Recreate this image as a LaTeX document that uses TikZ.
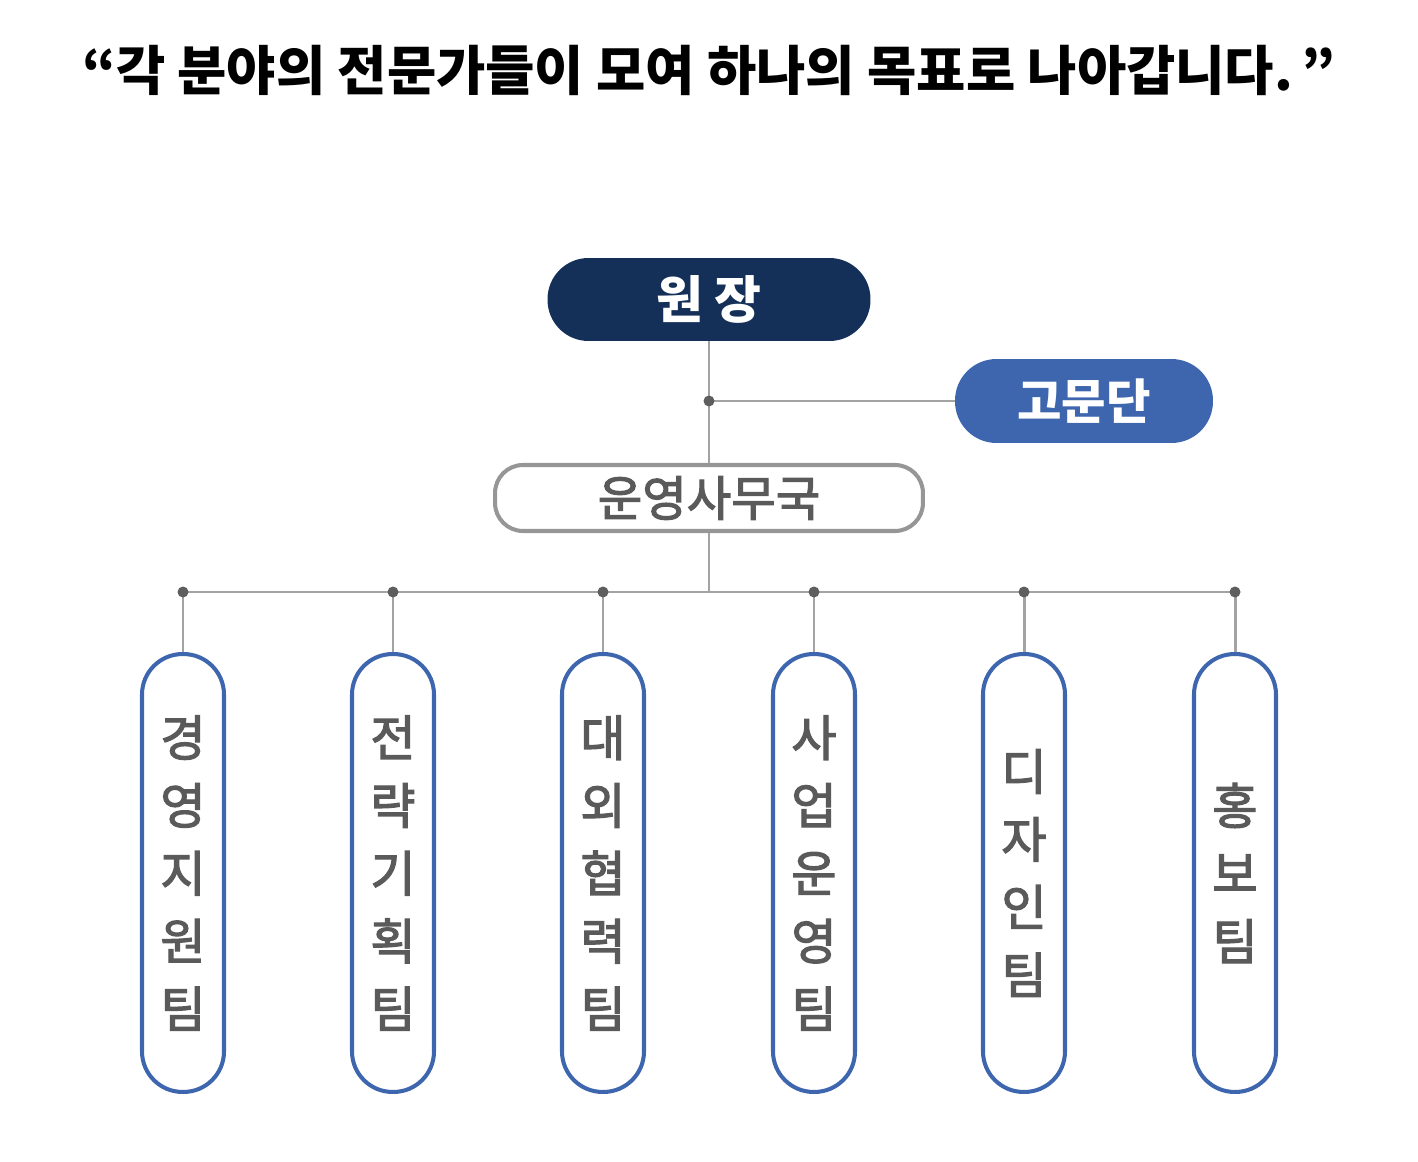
\documentclass[tikz,border=0pt]{standalone}
\usepackage{fontspec}
\setmainfont{Noto Sans CJK KR}
\newfontfamily\midfont{Noto Sans CJK KR}[FakeBold=2.4]
\usepackage{tikz,xcolor}
\usetikzlibrary{calc}

\definecolor{navy}{HTML}{143058}
\definecolor{midblue}{HTML}{3D66AF}
\definecolor{linegray}{HTML}{A3A3A3}
\definecolor{boxgray}{HTML}{969696}
\definecolor{textgray}{HTML}{5A5A5A}
\definecolor{dotgray}{HTML}{5E5E5E}

\tikzset{
  headbox/.style={fill=navy, text=white, rounded corners=0.82cm, minimum width=6.46cm, minimum height=1.66cm, inner sep=0pt, font=\bfseries\fontsize{29}{32}\selectfont},
  advbox/.style={fill=midblue, text=white, rounded corners=0.83cm, minimum width=5.16cm, minimum height=1.68cm, inner sep=0pt, font=\bfseries\fontsize{27.5}{30}\selectfont},
  officebox/.style={draw=boxgray, line width=2.3pt, fill=white, text=textgray, rounded corners=0.56cm, minimum width=8.56cm, minimum height=1.32cm, inner sep=0pt, font=\midfont\fontsize{27.5}{30}\selectfont},
  teambox/.style={draw=midblue, line width=2.3pt, fill=white, text=textgray, rounded corners=0.81cm, minimum width=1.64cm, minimum height=8.76cm, inner sep=0pt, align=center, font=\midfont\fontsize{28}{38.6}\selectfont},
  wire/.style={draw=linegray, line width=1.7pt},
  joint/.style={fill=dotgray}
}

\begin{document}
\begin{tikzpicture}[x=0.02cm, y=-0.02cm]
  \useasboundingbox (0,0) rectangle (1418,1162);
  % title
  \node (title) at (709,70) {\bfseries\fontsize{30.5}{34}\selectfont “각 분야의 전문가들이 모여 하나의 목표로 나아갑니다.\,”};

  % top of the chart
  \node[headbox] (head) at (709,299.5) {원 장};
  \node[advbox] (adv) at (1084,401) {고문단};
  \node[officebox] (office) at (709,498) {운영사무국};
  \coordinate (advjoint) at (709,401);
  \coordinate (bus) at (709,592);

  \draw[wire] (head.south) -- (office.north);
  \draw[wire] (advjoint) -- (adv.west);
  \draw[wire] (office.south) -- (bus);
  \fill[joint] (advjoint) circle(5.5);

  % teams
  \foreach \x/\i/\lab in {183/1/{경\\영\\지\\원\\팀}, 393/2/{전\\략\\기\\획\\팀}, 603/3/{대\\외\\협\\력\\팀}, 814/4/{사\\업\\운\\영\\팀}, 1024/5/{디\\자\\인\\팀}, 1235/6/{홍\\보\\팀}} {
    \coordinate (d\i) at (\x,592);
    \node[teambox] (team\i) at (\x,873) {\lab};
  }
  \draw[wire] (d1) -- (d6);
  \foreach \i in {1,...,6} {
    \draw[wire] (d\i) -- (team\i.north);
    \fill[joint] (d\i) circle(5.5);
  }
\end{tikzpicture}
\end{document}
